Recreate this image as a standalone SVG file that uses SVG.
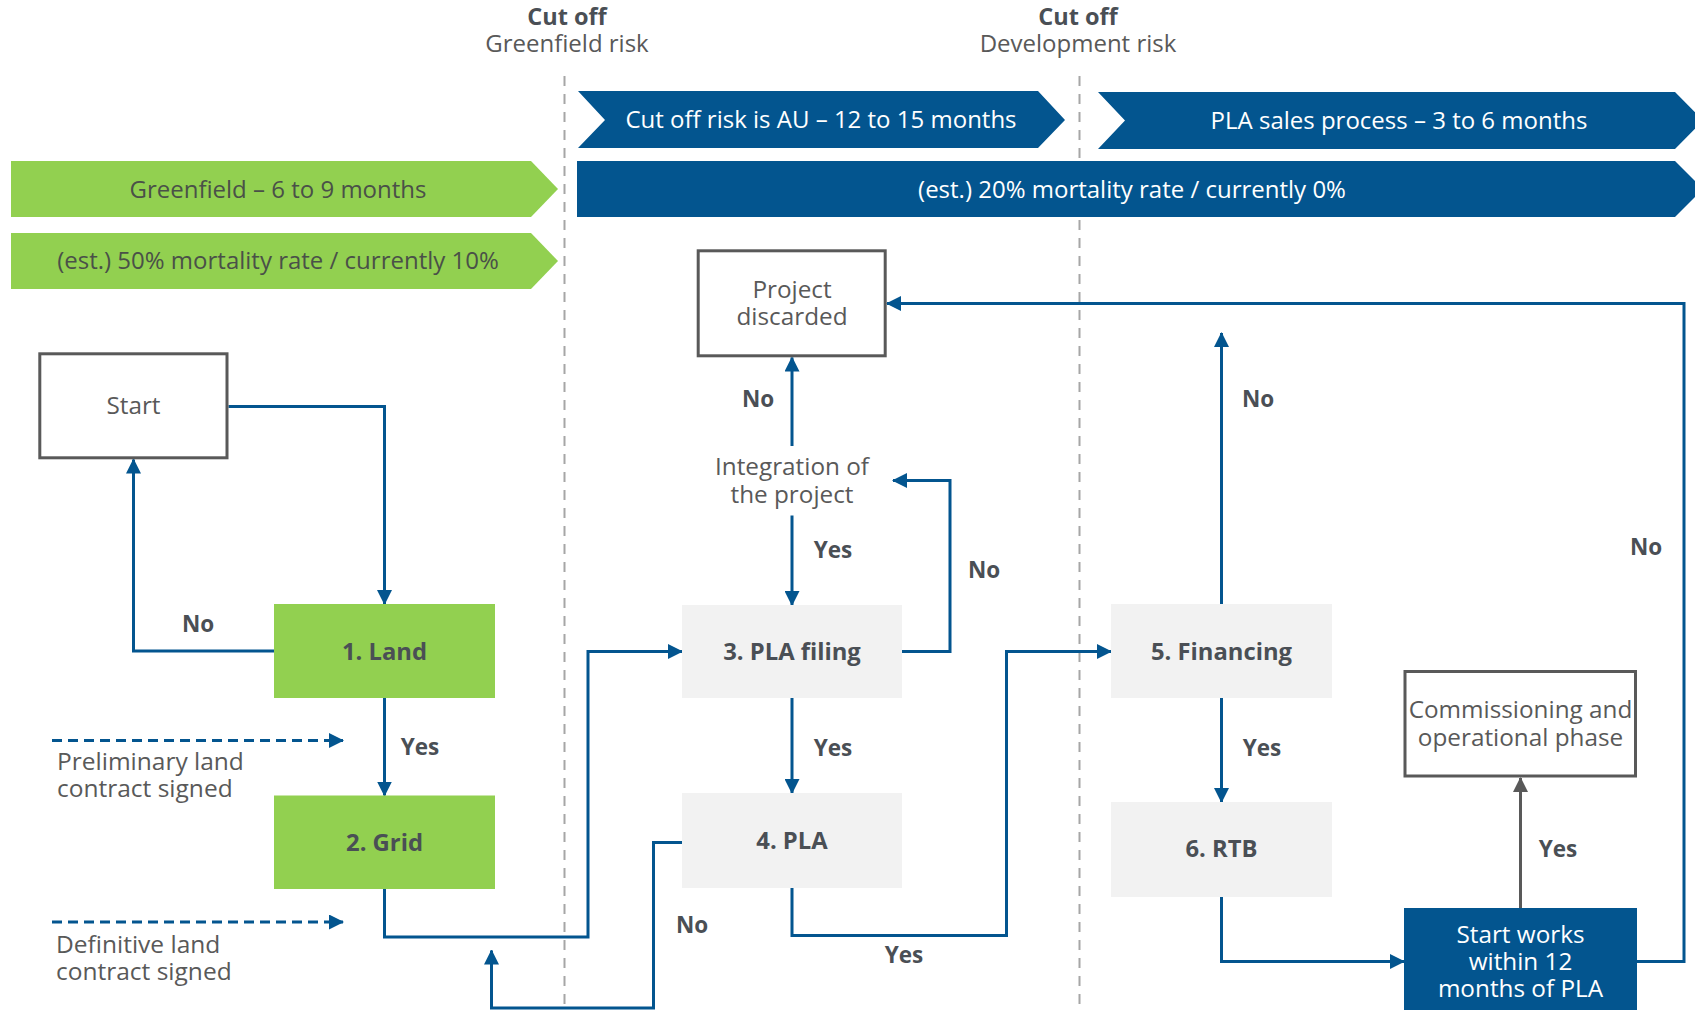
<svg xmlns="http://www.w3.org/2000/svg" width="1695" height="1010" viewBox="0 0 1695 1010">
  <defs>
    <marker id="arrow" markerUnits="userSpaceOnUse" markerWidth="15" markerHeight="15" refX="14" refY="7.5" orient="auto">
      <path d="M0,0 L15,7.5 L0,15 Z" fill="#03558F"/>
    </marker>
    <marker id="arrow-gray" markerUnits="userSpaceOnUse" markerWidth="15" markerHeight="15" refX="14" refY="7.5" orient="auto">
      <path d="M0,0 L15,7.5 L0,15 Z" fill="#595959"/>
    </marker>
    <style>
      text { font-family: "Open Sans", "Noto Sans", "Liberation Sans", sans-serif; }
      .hdr-b { font-size: 23.5px; font-weight: 700; fill: #4a4f55; text-anchor: middle; }
      .hdr { font-size: 24px; fill: #595959; text-anchor: middle; }
      .band-g { font-size: 24px; fill: #4a5048; text-anchor: middle; }
      .band-b { font-size: 24px; fill: #ffffff; text-anchor: middle; }
      .lbl { font-size: 24.3px; fill: #595959; text-anchor: middle; }
      .note { font-size: 24.5px; fill: #595959; }
      .step { font-size: 23.8px; font-weight: 700; fill: #4a4f55; text-anchor: middle; }
      .yn { font-size: 22.5px; font-weight: 700; fill: #4a4f55; text-anchor: middle; }
      .white { font-size: 24.3px; fill: #ffffff; text-anchor: middle; }
      .outline { fill: #ffffff; stroke: #595959; stroke-width: 3; }
      .green { fill: #92D050; }
      .grey { fill: #F2F2F2; }
      .blue { fill: #03558F; }
      .conn { fill: none; stroke: #03558F; stroke-width: 3; marker-end: url(#arrow); }
      .conn-gray { fill: none; stroke: #595959; stroke-width: 3; marker-end: url(#arrow-gray); }
      .dash { fill: none; stroke: #03558F; stroke-width: 3; stroke-dasharray: 10 6; marker-end: url(#arrow); }
      .cut { stroke: #a6a6a6; stroke-width: 2; stroke-dasharray: 10 8; }
    </style>
  </defs>

  <!-- cut-off headers and dividers -->
  <g id="cutoff-headers">
    <text class="hdr" x="567" y="25"><tspan class="hdr-b">Cut off</tspan><tspan x="567" dy="27">Greenfield risk</tspan></text>
    <text class="hdr" x="1078" y="25"><tspan class="hdr-b">Cut off</tspan><tspan x="1078" dy="27">Development risk</tspan></text>
    <line class="cut" x1="564.5" y1="76" x2="564.5" y2="1010"/>
    <line class="cut" x1="1079.5" y1="76" x2="1079.5" y2="1010"/>
  </g>

  <!-- phase banners -->
  <g id="banner-greenfield">
    <polygon class="green" points="11,161 531,161 558,189 531,217 11,217"/>
    <text class="band-g" x="278" y="197.5">Greenfield – 6 to 9 months</text>
  </g>
  <g id="banner-greenfield-mortality">
    <polygon class="green" points="11,233 531,233 558,261 531,289 11,289"/>
    <text class="band-g" x="278" y="269">(est.) 50% mortality rate / currently 10%</text>
  </g>
  <g id="banner-cutoff">
    <polygon class="blue" points="578,91 1038,91 1065,120 1038,148 578,148 605,120"/>
    <text class="band-b" x="821" y="128">Cut off risk is AU – 12 to 15 months</text>
  </g>
  <g id="banner-sales">
    <polygon class="blue" points="1098,92 1675,92 1703,120.5 1675,149 1098,149 1125,120.5"/>
    <text class="band-b" x="1399" y="128.5">PLA sales process – 3 to 6 months</text>
  </g>
  <g id="banner-dev-mortality">
    <polygon class="blue" points="577,161 1675,161 1703,189 1675,217 577,217"/>
    <text class="band-b" x="1132" y="197.5">(est.) 20% mortality rate / currently 0%</text>
  </g>

  <!-- connectors -->
  <g id="connectors">
    <path class="conn" d="M228.5,406.5 H384.5 V604"/>
    <path class="conn" d="M274,651 H133.5 V459.5"/>
    <path class="conn" d="M384.5,698 V795.5"/>
    <path class="conn" d="M384.5,889 V937 H588 V651.5 H682"/>
    <path class="conn" d="M792,446 V357.5"/>
    <path class="conn" d="M792,515.5 V605"/>
    <path class="conn" d="M902,651.5 H950 V480.5 H893"/>
    <path class="conn" d="M792,698 V793"/>
    <path class="conn" d="M682,842.5 H653.5 V1008 H491.5 V950.5"/>
    <path class="conn" d="M792,888 V935.5 H1006.5 V651.5 H1111"/>
    <path class="conn" d="M1221.5,604 V333"/>
    <path class="conn" d="M1221.5,698 V802"/>
    <path class="conn" d="M1221.5,897 V961.5 H1404"/>
    <path class="conn-gray" d="M1520.5,908 V778"/>
    <path class="conn" d="M1637,961.5 H1684 V303.5 H887"/>
    <path class="dash" d="M52,740.5 H343"/>
    <path class="dash" d="M52,922 H343"/>

    <text class="yn" x="198" y="632">No</text>
    <text class="yn" x="420" y="755">Yes</text>
    <text class="yn" x="758" y="407">No</text>
    <text class="yn" x="833" y="558">Yes</text>
    <text class="yn" x="984" y="578">No</text>
    <text class="yn" x="833" y="756">Yes</text>
    <text class="yn" x="692" y="933">No</text>
    <text class="yn" x="904" y="963">Yes</text>
    <text class="yn" x="1258" y="407">No</text>
    <text class="yn" x="1262" y="756">Yes</text>
    <text class="yn" x="1646" y="555">No</text>
    <text class="yn" x="1558" y="857">Yes</text>

    <text class="note" x="57" y="770">Preliminary land<tspan x="57" dy="27">contract signed</tspan></text>
    <text class="note" x="56" y="953">Definitive land<tspan x="56" dy="27">contract signed</tspan></text>
  </g>

  <!-- nodes -->
  <g id="node-start">
    <rect class="outline" x="39.8" y="353.8" width="187.2" height="104"/>
    <text class="lbl" x="133.5" y="414">Start</text>
  </g>
  <g id="node-land">
    <rect class="green" x="274" y="604" width="221" height="94"/>
    <text class="step" x="384.5" y="660">1. Land</text>
  </g>
  <g id="node-grid">
    <rect class="green" x="274" y="795.5" width="221" height="93.5"/>
    <text class="step" x="384.5" y="851">2. Grid</text>
  </g>
  <g id="node-discarded">
    <rect class="outline" x="698.2" y="250.8" width="187" height="105"/>
    <text class="lbl" x="792" y="298">Project<tspan x="792" dy="27">discarded</tspan></text>
  </g>
  <g id="node-integration">
    <text class="lbl" x="792" y="475">Integration of<tspan x="792" dy="28">the project</tspan></text>
  </g>
  <g id="node-pla-filing">
    <rect class="grey" x="682" y="605" width="220" height="93"/>
    <text class="step" x="792" y="660">3. PLA filing</text>
  </g>
  <g id="node-pla">
    <rect class="grey" x="682" y="793" width="220" height="95"/>
    <text class="step" x="792" y="849">4. PLA</text>
  </g>
  <g id="node-financing">
    <rect class="grey" x="1111" y="604" width="221" height="94"/>
    <text class="step" x="1221.5" y="660">5. Financing</text>
  </g>
  <g id="node-rtb">
    <rect class="grey" x="1111" y="802" width="221" height="95"/>
    <text class="step" x="1221.5" y="857">6. RTB</text>
  </g>
  <g id="node-commissioning">
    <rect class="outline" x="1405" y="671.5" width="230.5" height="104.5"/>
    <text class="lbl" x="1520.5" y="718">Commissioning and<tspan x="1520.5" dy="28">operational phase</tspan></text>
  </g>
  <g id="node-start-works">
    <rect class="blue" x="1404" y="908" width="233" height="110"/>
    <text class="white" x="1520.5" y="943">Start works<tspan x="1520.5" dy="27">within 12</tspan><tspan x="1520.5" dy="27">months of PLA</tspan></text>
  </g>
</svg>
